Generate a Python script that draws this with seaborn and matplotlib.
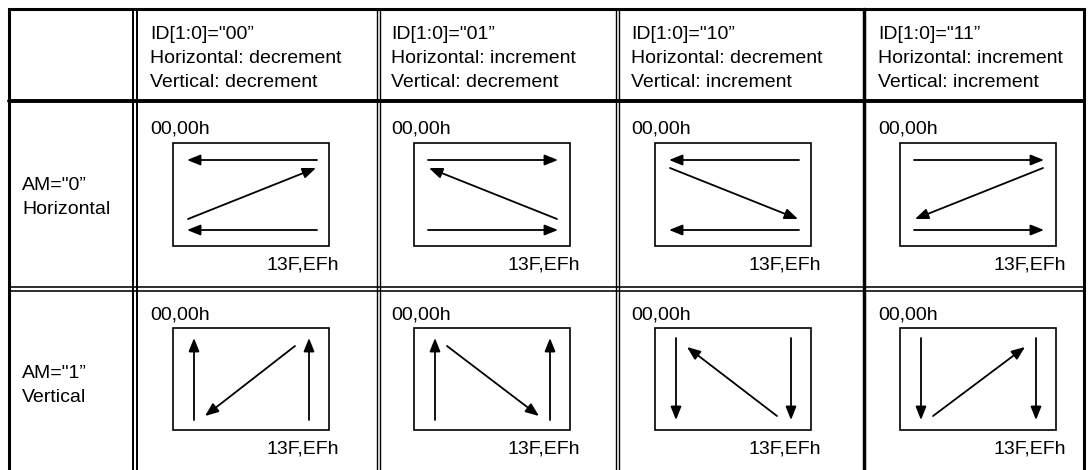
import matplotlib
matplotlib.use("Agg")
import matplotlib.pyplot as plt
import seaborn as sns

# table content
id_codes = ["00", "01", "10", "11"]
horizontal_mode = ["decrement", "increment", "decrement", "increment"]
vertical_mode = ["decrement", "decrement", "increment", "increment"]
am_values = ["0", "1"]
am_names = ["Horizontal", "Vertical"]
origin_label = "00,00h"
end_label = "13F,EFh"

sns.set_theme(style="white")
plt.rcParams['font.family'] = ['Liberation Sans', 'DejaVu Sans']

fig = plt.figure(figsize=(10.91, 4.70), dpi=100)
ax = fig.add_axes([0, 0, 1, 1])
ax.set_xlim(0, 1091)
ax.set_ylim(470, 0)
ax.axis('off')

FS = 14
k = 'black'

# table frame
left, right, top, bottom = 8.5, 1084, 9, 475
ax.plot([left, right], [top, top], color=k, lw=2.2, solid_capstyle='projecting')
ax.plot([left, left], [top, bottom], color=k, lw=2.2)
ax.plot([right, right], [top, bottom], color=k, lw=2.2)
ax.plot([left, right], [101, 101], color=k, lw=2.8)
for y in [286.5, 290.5]:
    ax.plot([left, right], [y, y], color=k, lw=1.15)
for x in [133, 136.5]:
    ax.plot([x, x], [top, bottom], color=k, lw=1.4)
for x in [376.5, 379.5, 616.3, 619.3]:
    ax.plot([x, x], [top, bottom], color=k, lw=1.0)
ax.plot([864, 864], [top, bottom], color=k, lw=2.5)

text_x = [150, 391, 631, 878]
box_left = [173, 414, 655, 900]
box_w = 156
row_box = [(143, 246), (328, 430)]
origin_base = [133, 319]
end_base = [269, 454]
label_base = [(190, 214), (378, 402)]


def arrow(x0, y0, x1, y1):
    ax.annotate("", xy=(x1, y1), xytext=(x0, y0),
                arrowprops=dict(arrowstyle="-|>,head_length=0.8,head_width=0.32",
                                mutation_scale=10, lw=1.3, color=k,
                                shrinkA=0, shrinkB=0))


# header row
for i, code in enumerate(id_codes):
    lines = ['ID[1:0]="' + code + '\u201d',
             'Horizontal: ' + horizontal_mode[i],
             'Vertical: ' + vertical_mode[i]]
    for j, s in enumerate(lines):
        ax.text(text_x[i], 39 + 24 * j, s, fontsize=FS, va='baseline', ha='left', color=k)

# row labels
for r in range(2):
    ax.text(22, label_base[r][0], 'AM="' + am_values[r] + '\u201d', fontsize=FS, va='baseline', color=k)
    ax.text(22, label_base[r][1], am_names[r], fontsize=FS, va='baseline', color=k)

# scan diagrams
for r in range(2):
    T, B = row_box[r]
    for i in range(len(id_codes)):
        L = box_left[i]
        R = L + box_w
        h = 1 if horizontal_mode[i] == "increment" else -1
        v = 1 if vertical_mode[i] == "increment" else -1
        ax.add_patch(plt.Rectangle((L, T), box_w, B - T, fill=False, lw=1.2, ec=k))
        ax.text(text_x[i], origin_base[r], origin_label, fontsize=FS, va='baseline', color=k)
        ax.text(R + 10, end_base[r], end_label, fontsize=FS, va='baseline', ha='right', color=k)
        if r == 0:
            xa, xb = L + 14, R - 12
            for y in [T + 17, B - 16]:
                if h > 0:
                    arrow(xa, y, xb, y)
                else:
                    arrow(xb, y, xa, y)
            dx = (R - 13, L + 15) if h > 0 else (L + 15, R - 13)
            dy = (T + 25, B - 27) if v > 0 else (B - 27, T + 25)
            arrow(dx[0], dy[0], dx[1], dy[1])
        else:
            ya, yb = T + 10, B - 10
            for x in [L + 21, R - 20]:
                if v > 0:
                    arrow(x, ya, x, yb)
                else:
                    arrow(x, yb, x, ya)
            dx = (L + 33, R - 31) if h > 0 else (R - 34, L + 32)
            dy = (B - 14, T + 19) if v > 0 else (T + 18, B - 14)
            arrow(dx[0], dy[0], dx[1], dy[1])

fig.savefig("out.png", dpi=100)
